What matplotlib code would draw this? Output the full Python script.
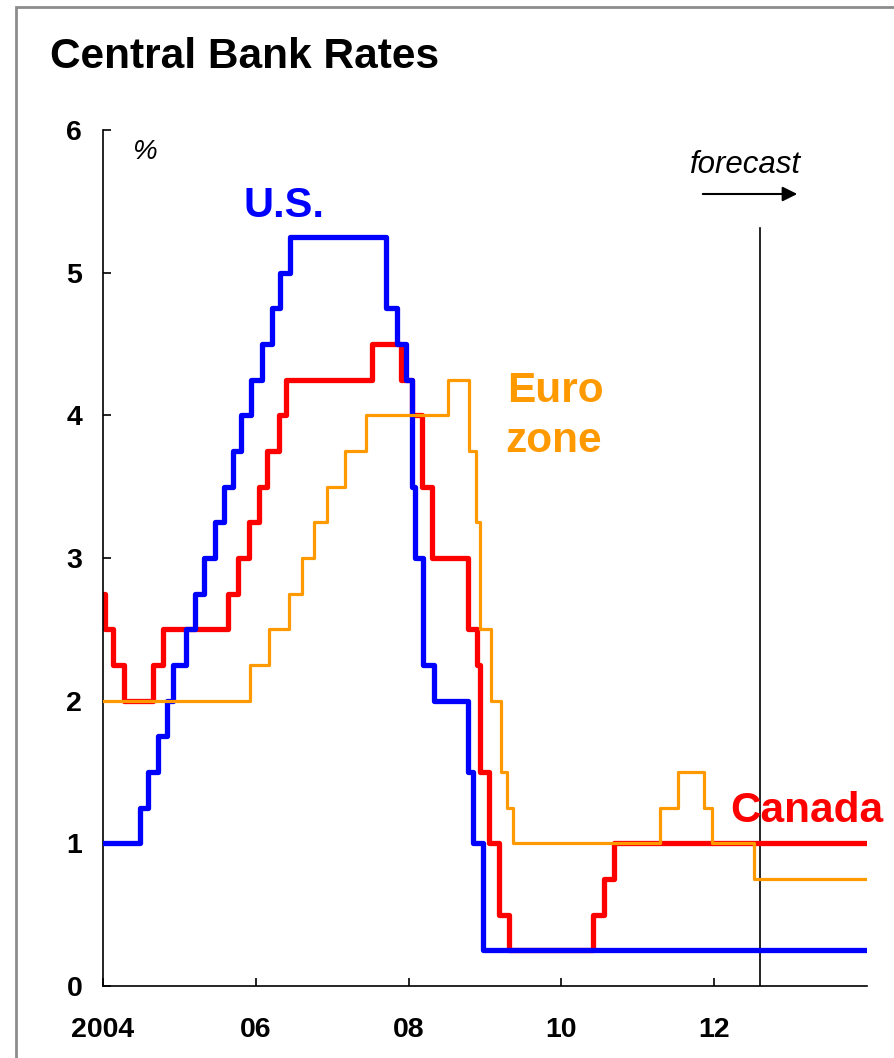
import matplotlib
matplotlib.use("Agg")
import matplotlib.pyplot as plt
from matplotlib.patches import Rectangle

plt.rcParams['font.family'] = ['Liberation Sans', 'DejaVu Sans']

# --- data (decimal year where the rate changes, rate in %) ---
us_dates = [2004.0, 2004.49, 2004.59, 2004.72, 2004.84, 2004.92, 2005.08, 2005.21,
            2005.32, 2005.47, 2005.58, 2005.70, 2005.81, 2005.94, 2006.08, 2006.21,
            2006.32, 2006.45, 2007.70, 2007.85, 2007.96, 2008.05, 2008.08, 2008.19,
            2008.33, 2008.78, 2008.84, 2008.97, 2014.0]
us_rate = [1.0, 1.25, 1.5, 1.75, 2.0, 2.25, 2.5, 2.75,
           3.0, 3.25, 3.5, 3.75, 4.0, 4.25, 4.5, 4.75,
           5.0, 5.25, 4.75, 4.5, 4.25, 3.5, 3.0, 2.25,
           2.0, 1.5, 1.0, 0.25, 0.25]

ca_dates = [2004.0, 2004.03, 2004.13, 2004.27, 2004.65, 2004.79, 2005.64, 2005.77,
            2005.91, 2006.04, 2006.15, 2006.30, 2006.39, 2007.52, 2007.90, 2008.05,
            2008.18, 2008.31, 2008.78, 2008.90, 2008.93, 2009.05, 2009.18, 2009.31,
            2010.42, 2010.56, 2010.69, 2014.0]
ca_rate = [2.75, 2.5, 2.25, 2.0, 2.25, 2.5, 2.75, 3.0,
           3.25, 3.5, 3.75, 4.0, 4.25, 4.5, 4.25, 4.0,
           3.5, 3.0, 2.5, 2.25, 1.5, 1.0, 0.5, 0.25,
           0.5, 0.75, 1.0, 1.0]

eu_dates = [2004.0, 2005.93, 2006.17, 2006.43, 2006.60, 2006.76, 2006.93, 2007.17,
            2007.44, 2008.52, 2008.79, 2008.88, 2008.94, 2009.08, 2009.21, 2009.29,
            2009.36, 2011.29, 2011.52, 2011.86, 2011.97, 2012.52, 2014.0]
eu_rate = [2.0, 2.25, 2.5, 2.75, 3.0, 3.25, 3.5, 3.75,
           4.0, 4.25, 3.75, 3.25, 2.5, 2.0, 1.5, 1.25,
           1.0, 1.25, 1.5, 1.25, 1.0, 0.75, 0.75]

x_ticks = [2004, 2006, 2008, 2010, 2012]
x_labels = ['2004', '06', '08', '10', '12']
y_ticks = [0, 1, 2, 3, 4, 5, 6]
forecast_start = 2012.6
forecast_top = 5.31

W, H = 894, 1058
fig = plt.figure(figsize=(W / 100, H / 100), dpi=100)
ax = fig.add_axes([103 / W, 1 - 986 / H, (867 - 103) / W, (986 - 130) / H])


def fx(px):
    return px / W


def fy(py):
    return 1 - py / H


# lines
ax.plot(ca_dates, ca_rate, drawstyle='steps-post', color='#ff0000', lw=3.8,
        solid_capstyle='round', zorder=2)
ax.plot(us_dates, us_rate, drawstyle='steps-post', color='#0000ff', lw=3.8,
        solid_capstyle='round', zorder=3)
ax.plot(eu_dates, eu_rate, drawstyle='steps-post', color='#ff9900', lw=2.3, zorder=4)

# forecast marker
ax.plot([forecast_start, forecast_start], [0, forecast_top], color='black', lw=1.2, zorder=1)

ax.set_xlim(2004, 2014)
ax.set_ylim(0, 6)
ax.set_xticks(x_ticks)
ax.set_xticklabels(x_labels)
ax.set_yticks(y_ticks)
ax.spines['top'].set_visible(False)
ax.spines['right'].set_visible(False)
for s in ['left', 'bottom']:
    ax.spines[s].set_linewidth(1.2)
ax.tick_params(axis='both', direction='in', length=6, width=1.2, labelsize=20.5)
ax.tick_params(axis='y', pad=15)
ax.tick_params(axis='x', pad=22)
for lab in ax.get_xticklabels() + ax.get_yticklabels():
    lab.set_fontweight('bold')

# texts
fig.text(fx(50), fy(68), 'Central Bank Rates', fontsize=30.5, fontweight='bold',
         ha='left', va='baseline')
fig.text(fx(132), fy(159), '%', fontsize=20, style='italic', ha='left', va='baseline')
fig.text(fx(243), fy(217), 'U.S.', fontsize=30, fontweight='bold', color='#0000ff',
         ha='left', va='baseline')
fig.text(fx(507), fy(402), 'Euro', fontsize=30.5, fontweight='bold', color='#ff9900',
         ha='left', va='baseline')
fig.text(fx(505), fy(452), 'zone', fontsize=30.5, fontweight='bold', color='#ff9900',
         ha='left', va='baseline')
fig.text(fx(730), fy(822), 'Canada', fontsize=30.5, fontweight='bold', color='#ff0000',
         ha='left', va='baseline')
fig.text(fx(690), fy(173), 'forecast', fontsize=22.5, style='italic', ha='left', va='baseline')
ax.annotate('', xy=(fx(800), fy(194)), xytext=(fx(700), fy(194)),
            xycoords='figure fraction', textcoords='figure fraction',
            arrowprops=dict(arrowstyle='-|>', color='black', lw=1.5, mutation_scale=22))

# grey frame
fig.patches.append(Rectangle((fx(16), -0.1), 1.2, fy(7) + 0.1, transform=fig.transFigure,
                             fill=False, edgecolor='#8c8c8c', lw=2))

fig.savefig('out.png', dpi=100)
